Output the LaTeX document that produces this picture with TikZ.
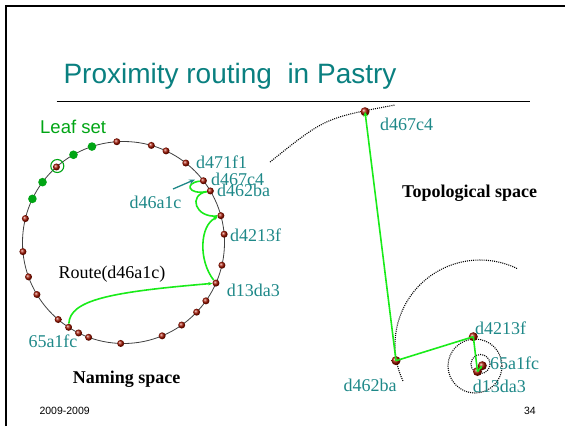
\documentclass[tikz,border=0pt]{standalone}
\usepackage{fontspec}
\setmainfont{Liberation Serif}
\setsansfont{Liberation Sans}
\usetikzlibrary{arrows.meta,calc}
\definecolor{titleteal}{RGB}{10,128,128}
\definecolor{labteal}{RGB}{30,136,136}
\definecolor{leafgreen}{RGB}{0,165,20}
\definecolor{routegreen}{RGB}{25,235,25}
\definecolor{dotred}{RGB}{165,20,0}
\begin{document}
\begin{tikzpicture}[x=1pt,y=-1pt,
  lab/.style={font=\fontsize{18}{20}\selectfont, text=labteal, inner sep=0pt, anchor=base west},
  blab/.style={font=\bfseries\fontsize{18}{20}\selectfont, text=black, inner sep=0pt, anchor=base west},
  reddot/.style={circle, inner sep=0pt, minimum size=7pt, shade, ball color=dotred, draw=none},
  tdot/.style={circle, inner sep=0pt, minimum size=9pt, shade, ball color=dotred, draw=none},
  leafdot/.style={circle, inner sep=0pt, minimum size=8.6pt, fill=leafgreen, draw=none},
  ring/.style={draw=black!75, line width=0.8pt},
  route/.style={draw=routegreen, line width=1.6pt},
  rtip/.style={-{Stealth[length=4pt,width=3.5pt]}},
  dots/.style={draw=black, line width=1.1pt, dash pattern=on 1pt off 1.1pt},
  tealarrow/.style={draw=labteal, line width=1.3pt, -{Stealth[length=6pt,width=5pt]}}
]
\useasboundingbox (0,0) rectangle (565,426);
% slide frame
\coordinate (fbl) at (6,426);
\coordinate (ftl) at (6,6);
\coordinate (ftr) at (565,6);
\draw[line width=2.4pt] (fbl) -- (ftl) -- (ftr);
% title
\node[font=\sffamily\fontsize{28}{30}\selectfont, text=titleteal, anchor=base west, inner sep=0pt] (title) at (63.3,83.3) {Proximity routing\ \ in Pastry};
\coordinate (rulel) at (56.7,101);
\coordinate (ruler) at (530,101);
\draw[line width=1pt] (rulel) -- (ruler);
% footer
\node[font=\sffamily\fontsize{10.5}{12}\selectfont, anchor=base west, inner sep=0pt] (date) at (39.3,414.3) {2009-2009};
\node[font=\sffamily\fontsize{10.5}{12}\selectfont, anchor=base east, inner sep=0pt] (page) at (536,414.3) {34};

% ---------------- naming space ----------------
\coordinate (C) at (123.5,242.5);
\draw[ring] (C) circle[radius=101];
\foreach \a [count=\i] in {266.2,286,294.9,308.1,355.3,13,35.3,43.6,54.8,67.5,91.6,110.2,116.4,130.3,149,160.1,174.8,193.7,228.4}
  \node[reddot] (r\i) at ($(C)+(\a:101)$) {};
\node[reddot] (n67) at ($(C)+(322.3:101)$) {};
\node[reddot] (n62) at ($(C)+(329.3:101)$) {};
\node[reddot] (n42) at ($(C)+(344.6:101)$) {};
\node[reddot] (n13) at ($(C)+(23.7:101)$) {};
\node[reddot] (n65) at ($(C)+(122.9:101)$) {};
\foreach \a [count=\i] in {205.6,216.7,240.3,251.8}
  \node[leafdot] (g\i) at ($(C)+(\a:101)$) {};
\node[circle, draw=leafgreen, line width=1.1pt, minimum size=13pt, inner sep=0pt] (leafring) at (57.3,166) {};

\draw[route,rtip] (n65) .. controls (70,300) and (110,292) .. (n13);
\draw[route,rtip] (n13) .. controls (198,260) and (200,225) .. (n42);
\draw[route] (n42) .. controls (195,218) and (188,195) .. (n62);
\draw[route] (n62) .. controls (188,195) and (184,183) .. (n67);

\coordinate (tail) at (173,189);
\coordinate (tip) at (195,179.5);
\draw[tealarrow] (tail) -- (tip);

\node[font=\sffamily\fontsize{18.5}{20}\selectfont, text=leafgreen, anchor=base west, inner sep=0pt] (leaf) at (40,133.3) {Leaf set};
\node[lab] (l471) at (196,168) {d471f1};
\node[lab] (l467) at (211,185) {d467c4};
\node[lab] (l462) at (217,196.7) {d462ba};
\node[lab] (l46a) at (129.3,208) {d46a1c};
\node[lab] (l421) at (230,241.5) {d4213f};
\node[lab] (l13) at (226.7,296) {d13da3};
\node[lab] (l65) at (28.3,347.3) {65a1fc};
\node[lab, text=black] (routelab) at (58.3,278) {Route(d46a1c)};
\node[blab] (naming) at (72.7,383) {Naming space};

% ---------------- topological space ----------------
\coordinate (arcA) at (270,162);
\coordinate (arcB) at (395,105);
\draw[dots] (arcA) .. controls (325,118) .. (arcB);
\coordinate (K) at (480,345);
\draw[dots] ($(K)+(155:85)$) arc[start angle=155, end angle=296, radius=85];
\coordinate (K2) at (475,366);
\draw[dots] (K2) circle[radius=27];
\coordinate (K3) at (480.5,364);
\draw[dots] (K3) circle[radius=9.5];

\node[tdot] (t67) at (365,111.7) {};
\node[tdot] (t62) at (396,360.7) {};
\node[tdot] (t42) at (473.3,336.7) {};
\node[tdot] (t65) at (482.3,365.7) {};
\node[tdot] (t13) at (477.5,371.5) {};

\draw[route,-{Stealth[length=5pt,width=4.5pt]}] (t62.center) -- (t67.center);
\draw[route] (t42.center) -- (t62.center);
\draw[route] (t13.center) -- (t42.center);
\draw[route,-{Stealth[length=3pt,width=3pt]}] (t13.center) -- (t65.center);

\node[lab] (tl67) at (380,130.7) {d467c4};
\node[lab] (tl62) at (343.3,391) {d462ba};
\node[lab] (tl42) at (475,334.3) {d4213f};
\node[lab] (tl65) at (490,369) {65a1fc};
\node[lab] (tl13) at (472.7,392.7) {d13da3};
\node[blab] (topo) at (402,197.3) {Topological space};
\end{tikzpicture}
\end{document}
